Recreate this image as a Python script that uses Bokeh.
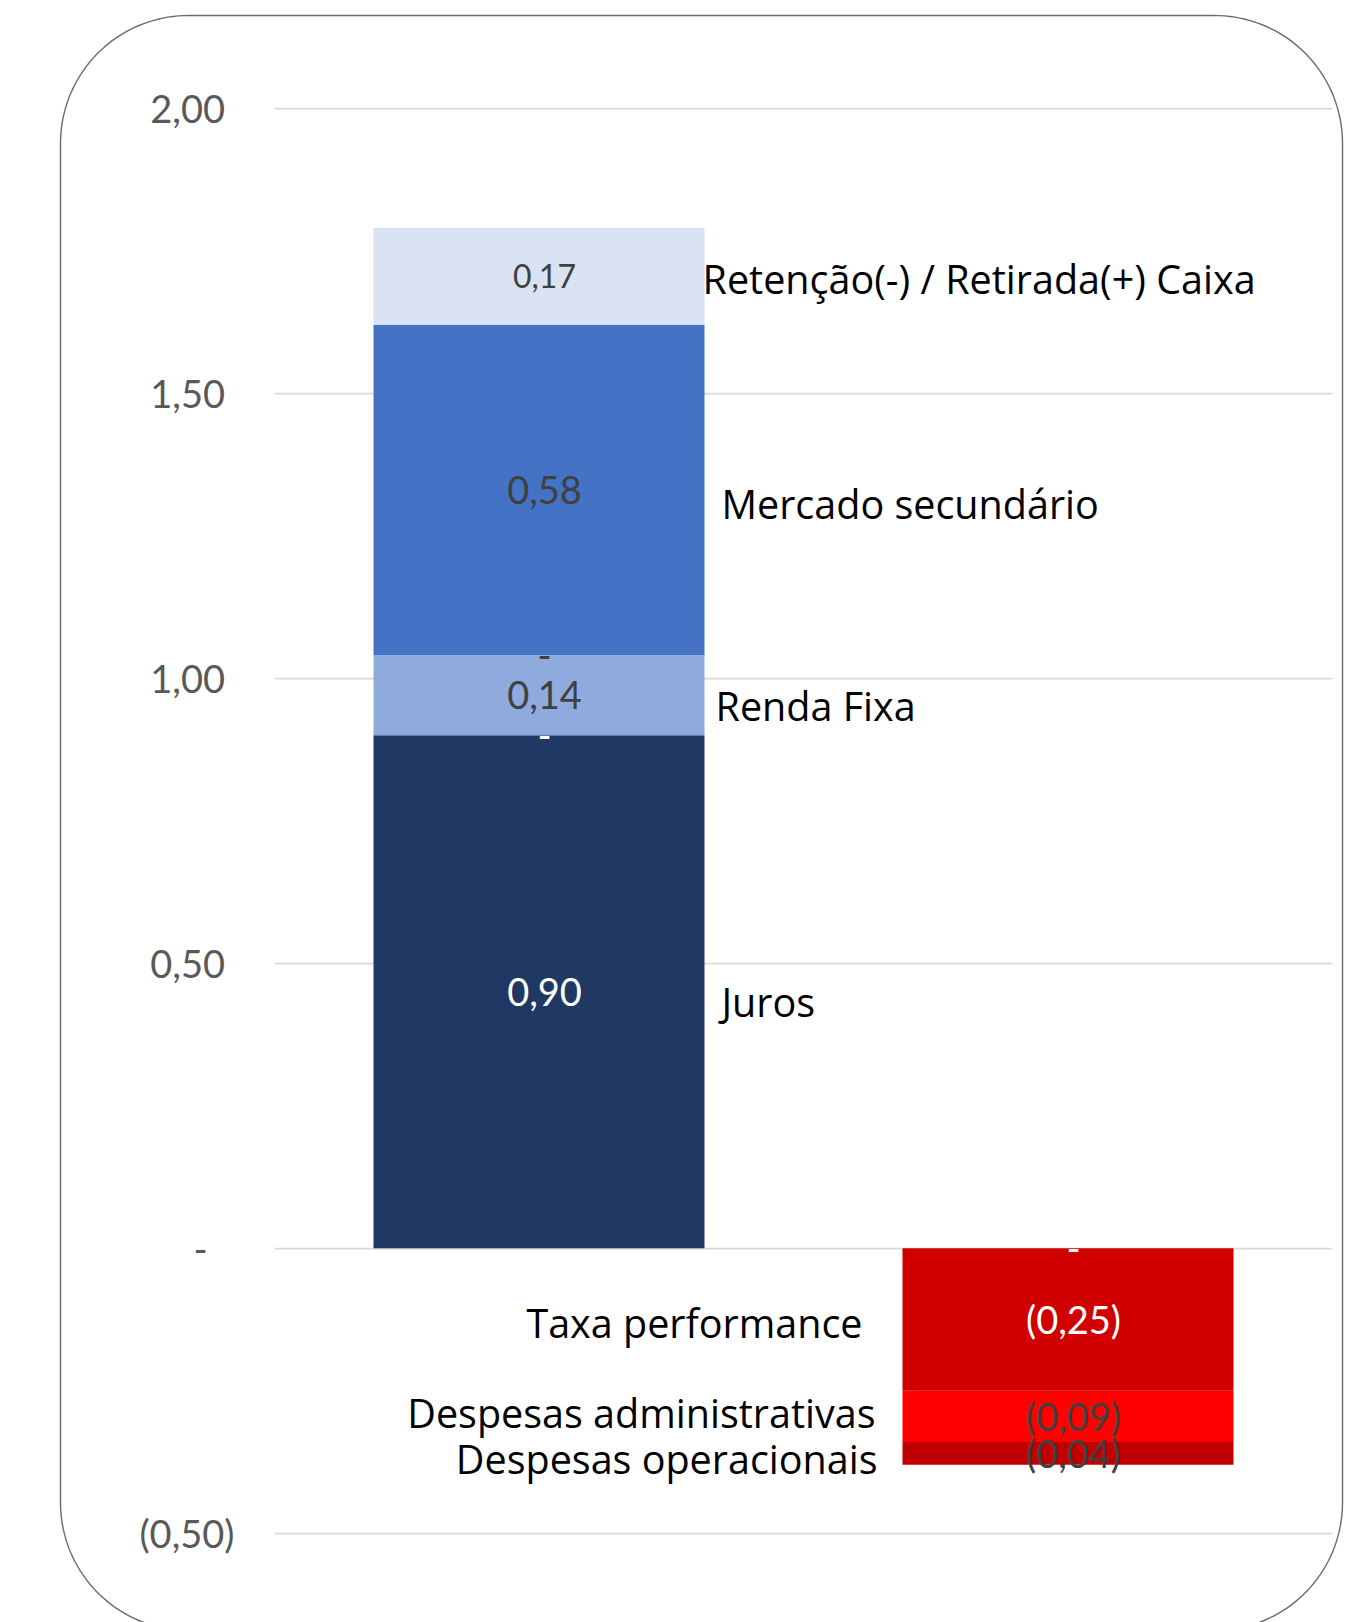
import numpy as np
from bokeh.plotting import figure
from bokeh.models import ColumnDataSource, Range1d, FixedTicker
from bokeh.core.properties import value
from bokeh.embed import file_html
from bokeh.resources import INLINE

# ---------------- data ----------------
categories = ["Receitas", "Despesas"]
series_names = [
    "Juros",
    "Taxa performance",
    "Renda Fixa",
    "Despesas administrativas",
    "Mercado secundário",
    "Retenção(-) / Retirada(+) Caixa",
    "Despesas operacionais",
]
# value of each series in each category (None = no entry)
receitas = [0.90, 0.00, 0.14, 0.00, 0.58, 0.17, None]
despesas = [0.00, -0.25, None, -0.09, None, None, -0.04]
y_ticks = [-0.5, 0.0, 0.5, 1.0, 1.5, 2.0]
y_tick_labels = ["(0,50)", "-", "0,50", "1,00", "1,50", "2,00"]

# ---------------- styling ----------------
bar_colors = ["#203864", "#D00000", "#8FAADC", "#FF0000", "#4472C4", "#DAE3F3", "#C00000"]
value_colors = ["#FFFFFF", "#FFFFFF", "#404040", "#404040", "#404040", "#404040", "#404040"]
value_sizes = [38, 38, 38, 38, 38, 32, 38]
name_dx = [17, -40, 11, -27, 17, -2, -25]     # px from the bar edge
name_dy = [10, 4, 11, -3, 14, 3, 6]           # px below the segment centre

NUM_FONT = "Lato"
NAME_FONT = "Open Sans"
NAME_SIZE = 39.5

W, H = 1362, 1622
FRAME_L, FRAME_R = 274, 1332
Y2_PX, YM05_PX = 107.6, 1532.7
X_SCALE = (FRAME_R - FRAME_L) / 2.0
Y_SCALE = (YM05_PX - Y2_PX) / 2.5
BAR_W = 331 / X_SCALE
cat_x = [0.5, 1.5]


def fmt(v):
    if v == 0:
        return "-"
    s = f"{abs(v):.2f}".replace(".", ",")
    return f"({s})" if v < 0 else s


# ---------------- stacking ----------------
bars = dict(x=[], bottom=[], top=[], color=[])
vals = dict(x=[], y=[], text=[], color=[], size=[])
names = dict(x=[], y=[], text=[], align=[], dx=[], dy=[])

for ci, values in enumerate([receitas, despesas]):
    pos, neg = 0.0, 0.0
    for si, v in enumerate(values):
        if v is None:
            continue
        if v >= 0:
            b, t = pos, pos + v
            pos = t
        else:
            b, t = neg + v, neg
            neg = b
        mid = (b + t) / 2
        if v != 0:
            bars["x"].append(cat_x[ci])
            bars["bottom"].append(b)
            bars["top"].append(t)
            bars["color"].append(bar_colors[si])
            left_side = ci == 0
            names["x"].append(cat_x[ci] + (BAR_W / 2 if left_side else -BAR_W / 2))
            names["y"].append(mid)
            names["text"].append(series_names[si])
            names["align"].append("left" if left_side else "right")
            names["dx"].append(name_dx[si])
            names["dy"].append(name_dy[si])
        vals["x"].append(cat_x[ci])
        vals["y"].append(mid)
        vals["text"].append(fmt(v))
        vals["color"].append(value_colors[si])
        vals["size"].append(f"{value_sizes[si]}px")

# ---------------- figure ----------------
p = figure(
    width=W, height=H, title=None,
    x_range=Range1d(0, 2),
    y_range=Range1d(-0.5 - (H - YM05_PX) / Y_SCALE, 2.0 + Y2_PX / Y_SCALE),
    output_backend="svg", toolbar_location=None,
    x_axis_location=None, y_axis_location="left",
    min_border_left=FRAME_L, min_border_right=W - FRAME_R,
    min_border_top=0, min_border_bottom=0,
)
p.outline_line_color = None
p.background_fill_color = "white"
p.border_fill_color = "white"

ax = p.yaxis[0]
ax.ticker = FixedTicker(ticks=y_ticks)
overrides = {}
for t, lab in zip(y_ticks, y_tick_labels):
    if lab.startswith("("):
        overrides[t] = lab
    elif lab == "-":
        overrides[t] = lab + "\u2007\u2009"
    else:
        overrides[t] = lab + "\u2009\u2009"
ax.major_label_overrides = overrides
ax.axis_line_color = None
ax.major_tick_line_color = None
ax.minor_tick_line_color = None
ax.major_tick_out = 0
ax.major_tick_in = 0
ax.major_label_standoff = 40
ax.major_label_text_font = NUM_FONT
ax.major_label_text_font_size = "38px"
ax.major_label_text_color = "#595959"

p.xgrid.visible = False
p.ygrid.ticker = FixedTicker(ticks=y_ticks)
p.ygrid.grid_line_color = "#D9D9D9"
p.ygrid.grid_line_width = 1.75

p.vbar(x="x", bottom="bottom", top="top", width=BAR_W, fill_color="color",
       line_color=None, source=ColumnDataSource(bars))

p.text(x="x", y="y", text="text", source=ColumnDataSource(vals),
       text_color="color", text_font=value(NUM_FONT), text_font_size="size",
       text_align="center", text_baseline="alphabetic", x_offset=5.5)

p.text(x="x", y="y", text="text", source=ColumnDataSource(names),
       text_color="#000000", text_font=value(NAME_FONT), text_font_size=f"{NAME_SIZE}px",
       text_align="align", text_baseline="alphabetic", x_offset="dx", y_offset="dy")


# rounded frame around the chart
def rounded_rect(x0, y0, x1, y1, r, n=40):
    pts = []
    for cx, cy, a0, a1 in [(x1 - r, y0 + r, -90, 0), (x1 - r, y1 - r, 0, 90),
                           (x0 + r, y1 - r, 90, 180), (x0 + r, y0 + r, 180, 270)]:
        t = np.radians(np.linspace(a0, a1, n))
        pts += list(zip(cx + r * np.cos(t), cy + r * np.sin(t)))
    pts.append(pts[0])
    xs = [(px - FRAME_L) / X_SCALE for px, _ in pts]
    ys = [2.0 - (py - Y2_PX) / Y_SCALE for _, py in pts]
    return xs, ys


bx, by = rounded_rect(60, 15, 1342, 1630, 128)
p.line(bx, by, line_color="#6b6b6b", line_width=1.4, level="overlay")

open("out.html", "w").write(file_html(p, INLINE))
